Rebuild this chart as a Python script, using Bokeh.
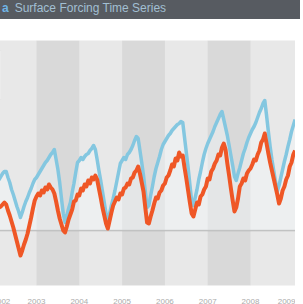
from bokeh.plotting import figure
from bokeh.models import Div, Range1d, FixedTicker, BoxAnnotation, Span
from bokeh.layouts import column
from bokeh.embed import file_html
from bokeh.resources import INLINE

# ---- data -------------------------------------------------------------
title_lead = "a"
title_rest = "Surface Forcing Time Series"
start_year = 2002
samples_per_year = 24
years = [2002, 2003, 2004, 2005, 2006, 2007, 2008, 2009]
year_labels = ["2002", "2003", "2004", "2005", "2006", "2007", "2008", "2009"]
shaded_years = [2003, 2005, 2007]

blue_values = [
    45, 47, 49, 51, 54, 57, 59, 59, 53, 48, 41, 36, 30, 24, 19, 13, 18, 24, 29, 33, 38, 42, 47, 51,
    53, 56, 59, 62, 65, 68, 70, 73, 76, 78, 81, 71, 61, 48, 32, 17, 8, 15, 22, 28, 38, 47, 58, 68,
    70, 73, 71, 74, 76, 77, 80, 82, 85, 81, 71, 60, 50, 39, 28, 17, 9, 17, 25, 32, 40, 49, 58, 67,
    70, 73, 71, 76, 78, 81, 85, 90, 94, 92, 80, 68, 55, 39, 23, 25, 35, 44, 54, 62, 68, 74, 81, 86,
    89, 92, 95, 97, 100, 102, 104, 106, 107, 109, 108, 93, 78, 63, 46, 29, 25, 33, 41, 51, 59, 68, 76, 82,
    87, 91, 95, 99, 104, 108, 112, 116, 119, 111, 103, 95, 85, 75, 65, 54, 50, 57, 63, 70, 77, 82, 88, 93,
    97, 101, 104, 108, 113, 118, 122, 127, 130, 115, 99, 84, 71, 60, 49, 39, 45, 53, 61, 69, 76, 84, 91, 99,
    105, 111,
]

orange_values = [
    18, 20, 21, 23, 24, 26, 28, 26, 20, 15, 9, 3, -4, -11, -18, -25, -20, -14, -9, -3, 5, 13, 22, 30,
    34, 37, 35, 40, 38, 43, 41, 46, 43, 41, 37, 29, 20, 12, 6, 0, -2, 4, 11, 16, 21, 29, 30, 36,
    35, 42, 40, 46, 44, 50, 47, 53, 51, 55, 51, 42, 33, 23, 15, 7, 2, 10, 18, 25, 29, 33, 31, 37,
    36, 42, 43, 47, 46, 52, 53, 58, 60, 64, 57, 48, 39, 23, 8, 7, 14, 20, 27, 33, 32, 38, 40, 45,
    47, 53, 55, 60, 66, 64, 72, 70, 78, 74, 75, 63, 52, 40, 28, 17, 14, 21, 28, 26, 34, 36, 41, 44,
    52, 51, 59, 62, 67, 70, 76, 75, 83, 87, 81, 67, 55, 42, 30, 19, 23, 32, 44, 47, 52, 50, 57, 60,
    62, 66, 71, 70, 76, 80, 88, 91, 97, 87, 77, 68, 60, 52, 44, 36, 27, 32, 40, 44, 51, 55, 64, 68,
    76, 80,
]

times = [start_year + i / samples_per_year for i in range(len(blue_values))]

# ---- styling ----------------------------------------------------------
FONT = "Liberation Sans"

header = Div(
    text=(
        '<div style="padding-left:5px;line-height:22px;white-space:nowrap;'
        f'font-family:{FONT};font-size:12px;color:#a2bfd2;">'
        f'<span style="color:#6fb4e6;font-weight:bold;margin-right:6px">{title_lead}</span>'
        f'{title_rest}</div>'
    ),
    width=303,
    height=22,
    styles={"background-color": "#575b61", "overflow": "hidden"},
)

p = figure(
    width=303,
    height=282,
    x_range=Range1d(2001.972, 2009.051),
    y_range=Range1d(-55, 190),
    output_backend="svg",
    toolbar_location=None,
    min_border_top=16,
    min_border_left=0,
    min_border_right=0,
    min_border_bottom=21,
    background_fill_color="#e8e8e8",
    border_fill_color="white",
    outline_line_color=None,
)
p.grid.visible = False
p.yaxis.visible = False

for y in shaded_years:
    p.add_layout(BoxAnnotation(left=y, right=y + 1, fill_color="#d9d9d9",
                               fill_alpha=1.0, line_color=None, level="underlay"))

p.add_layout(Span(location=0, dimension="width", line_color="#b4b4b4",
                  line_width=1.5, level="underlay"))

# partially visible legend box at the left edge
p.add_layout(BoxAnnotation(left=2001.9, right=2002.16, top=180, bottom=131,
                           fill_color="white", fill_alpha=1.0,
                           line_color="#cfcfcf", line_width=1, level="underlay"))

p.varea(x=times, y1=[0] * len(blue_values), y2=blue_values,
        fill_color="#f6fbfd", fill_alpha=0.4)
p.line(times, blue_values, line_color="#84c7e0", line_width=3.5, line_join="round")
p.line(times, orange_values, line_color="#ef5726", line_width=4, line_join="round")

ax = p.xaxis[0]
ax.ticker = FixedTicker(ticks=years)
ax.major_label_overrides = {y: l for y, l in zip(years, year_labels)}
ax.axis_line_color = None
ax.major_tick_line_color = None
ax.minor_tick_line_color = None
ax.major_label_text_font = FONT
ax.major_label_text_font_size = "8px"
ax.major_label_text_color = "#ababab"
ax.major_label_standoff = 7

layout = column(header, p, spacing=0,
                styles={"margin-left": "-8px", "margin-top": "-8px"})

with open("out.html", "w") as f:
    f.write(file_html(layout, INLINE))
